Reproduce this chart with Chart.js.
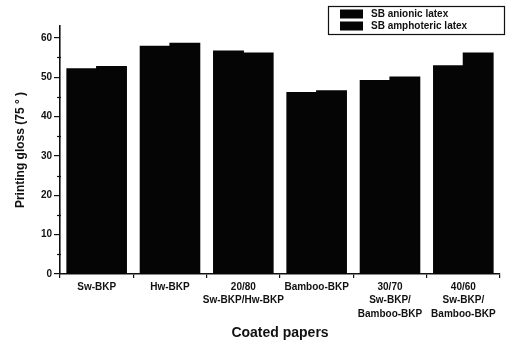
<!DOCTYPE html>
<html>
<head>
<meta charset="utf-8">
<script src="https://cdn.jsdelivr.net/npm/chart.js@4/dist/chart.umd.min.js"></script>
<style>
  html, body { margin: 0; padding: 0; background: #fff; }
  #wrap { width: 516px; height: 344px; }
</style>
</head>
<body>
<div id="wrap"><canvas id="c" width="516" height="344"></canvas></div>
<script>
// Coated paper types (multi-line labels)
const categories = [
  'Sw-BKP',
  'Hw-BKP',
  ['20/80', 'Sw-BKP/Hw-BKP'],
  'Bamboo-BKP',
  ['30/70', 'Sw-BKP/', 'Bamboo-BKP'],
  ['40/60', 'Sw-BKP/', 'Bamboo-BKP']
];
const seriesNames = ['SB anionic latex', 'SB amphoteric latex'];
const anionicGloss = [52.1, 57.8, 56.6, 46.1, 49.1, 52.9];
const amphotericGloss = [52.7, 58.6, 56.1, 46.5, 50.0, 56.1];
const yTicks = [0, 10, 20, 30, 40, 50, 60];
const yMinorTicks = [5, 15, 25, 35, 45, 55];

const FONT = '"Liberation Sans", Arial, sans-serif';

// Boxed legend in the upper right corner
const boxLegend = {
  id: 'boxLegend',
  afterDraw(chart) {
    const ctx = chart.ctx;
    const x0 = 328, y0 = 6, w = 176, h = 28;
    ctx.save();
    ctx.fillStyle = '#fff';
    ctx.fillRect(x0, y0, w, h);
    ctx.strokeStyle = '#111';
    ctx.lineWidth = 1.2;
    ctx.strokeRect(x0 + 0.5, y0 + 0.5, w, h);
    ctx.font = 'bold 10px ' + FONT;
    ctx.textBaseline = 'middle';
    chart.data.datasets.forEach((ds, i) => {
      const cy = y0 + 8 + i * 12;
      ctx.fillStyle = ds.backgroundColor;
      ctx.fillRect(x0 + 12, cy - 4.5, 23, 9);
      ctx.fillStyle = '#111';
      ctx.fillText(ds.label, x0 + 43, cy + 0.5);
    });
    ctx.restore();
  }
};

// Small minor ticks on the value axis
const minorTicks = {
  id: 'minorTicks',
  afterDraw(chart) {
    const y = chart.scales.y;
    const ctx = chart.ctx;
    ctx.save();
    ctx.strokeStyle = '#111';
    ctx.lineWidth = 1.2;
    yMinorTicks.forEach(v => {
      const py = Math.round(y.getPixelForValue(v)) + 0.5;
      ctx.beginPath();
      ctx.moveTo(y.right - 3, py);
      ctx.lineTo(y.right + 1, py);
      ctx.stroke();
    });
    ctx.restore();
  }
};

new Chart(document.getElementById('c'), {
  type: 'bar',
  data: {
    labels: categories,
    datasets: [
      { label: seriesNames[0], data: anionicGloss, backgroundColor: '#050505',
        categoryPercentage: 0.81, barPercentage: 1.0, inflateAmount: 0.6 },
      { label: seriesNames[1], data: amphotericGloss, backgroundColor: '#050505',
        categoryPercentage: 0.81, barPercentage: 1.0, inflateAmount: 0.6 }
    ]
  },
  options: {
    responsive: false,
    animation: false,
    devicePixelRatio: 1,
    layout: { padding: { top: 26, right: 16, left: 0, bottom: 0 } },
    plugins: {
      legend: { display: false },
      tooltip: { enabled: false }
    },
    scales: {
      x: {
        afterFit(scale) { scale.height = 70; },
        grid: { display: true, drawOnChartArea: false, drawTicks: true, tickLength: 4, color: '#111', lineWidth: 1.2, offset: true },
        border: { display: true, color: '#111', width: 1.6 },
        ticks: {
          color: '#111',
          maxRotation: 0,
          autoSkip: false,
          padding: 2,
          font: { family: FONT, size: 10, weight: 'bold', lineHeight: 1.35 }
        },
        title: {
          display: true,
          text: 'Coated papers',
          color: '#111',
          font: { family: FONT, size: 14, weight: 'bold' },
          padding: { top: 0, bottom: 2 }
        }
      },
      y: {
        min: 0,
        max: 63,
        afterFit(scale) { scale.width = 60; },
        afterBuildTicks(scale) {
          scale.ticks = yTicks.map(v => ({ value: v }));
        },
        grid: { display: true, drawOnChartArea: false, drawTicks: true, tickLength: 6, color: '#111', lineWidth: 1.2 },
        border: { display: true, color: '#111', width: 1.6 },
        ticks: {
          color: '#111',
          padding: 2,
          font: { family: FONT, size: 10, weight: 'bold' }
        },
        title: {
          display: true,
          text: 'Printing gloss (75 ° )',
          color: '#111',
          font: { family: FONT, size: 12, weight: 'bold' },
          padding: { top: 13, bottom: 0 }
        }
      }
    }
  },
  plugins: [boxLegend, minorTicks]
});
</script>
</body>
</html>
